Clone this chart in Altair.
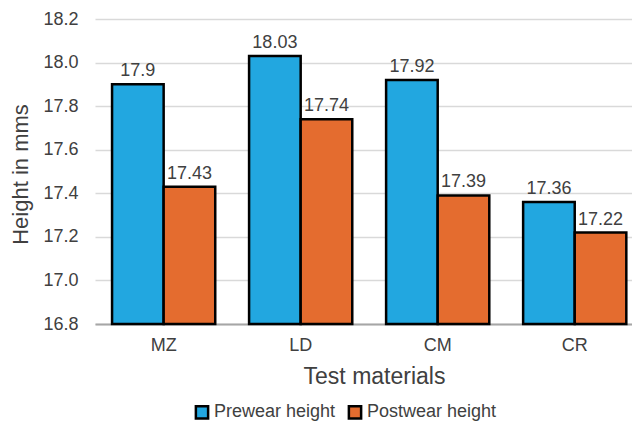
import altair as alt
import pandas as pd

materials = ["MZ", "LD", "CM", "CR"]
prewear = [17.9, 18.03, 17.92, 17.36]
postwear = [17.43, 17.74, 17.39, 17.22]
series_names = ["Prewear height", "Postwear height"]
colors = ["#22A7E0", "#E46C2F"]

rows = []
for m, a, b in zip(materials, prewear, postwear):
    rows.append({"material": m, "series": series_names[0], "value": a, "label": str(a)})
    rows.append({"material": m, "series": series_names[1], "value": b, "label": str(b)})
df = pd.DataFrame(rows)

FONT = "Liberation Sans"
TXT = "#404040"

x = alt.X("material:N", sort=materials,
          scale=alt.Scale(paddingInner=0.247, paddingOuter=0.083, align=0.75),
          axis=alt.Axis(title="Test materials", labelAngle=0, labelFontSize=18,
                        labelColor=TXT, labelFont=FONT, labelPadding=12,
                        titleFontSize=23, titleColor=TXT, titleFont=FONT,
                        titleFontWeight="normal", titleBaseline="alphabetic",
                        titleX=279, titleY=59,
                        ticks=False, domainColor="#a6a6a6", domainWidth=2))
xo = alt.XOffset("series:N", sort=series_names, scale=alt.Scale(paddingInner=0, paddingOuter=0))
y = alt.Y("value:Q", scale=alt.Scale(domain=[16.8, 18.2], zero=False, nice=False),
          axis=alt.Axis(title="Height in mms", values=[16.8, 17.0, 17.2, 17.4, 17.6, 17.8, 18.0, 18.2],
                        format=".1f", labelFontSize=18, labelColor=TXT, labelFont=FONT,
                        labelPadding=17, ticks=False, domain=False,
                        gridColor="#d9d9d9", gridWidth=1.5,
                        titleFontSize=22, titleColor=TXT, titleFont=FONT,
                        titleFontWeight="normal", titleBaseline="alphabetic",
                        titleX=-68, titleY=155))

base = alt.Chart(df)
bars = base.mark_bar(stroke="black", strokeWidth=2.5).encode(
    x=x, xOffset=xo, y=y, y2=alt.datum(16.8),
    color=alt.Color("series:N", sort=series_names,
                    scale=alt.Scale(domain=series_names, range=colors),
                    legend=alt.Legend(title=None, orient="none", direction="horizontal",
                                      legendX=98, legendY=384, symbolType="square",
                                      symbolSize=150, symbolStrokeColor="black",
                                      symbolStrokeWidth=2.5, labelFontSize=18,
                                      labelFont=FONT, labelColor=TXT, columnPadding=7,
                                      labelOffset=3)),
)
labels = base.mark_text(dy=-8, fontSize=18, font=FONT, color=TXT, baseline="alphabetic").encode(
    x=alt.X("material:N", sort=materials), xOffset=alt.XOffset("series:N", sort=series_names),
    y="value:Q", text="label:N",
)

chart = (bars + labels).properties(
    width=537, height=305,
    autosize=alt.AutoSizeParams(type="none"),
    padding={"left": 87, "top": 11, "right": 0, "bottom": 99},
).configure_view(stroke=None)

chart.save("out.html", embed_options={"renderer": "svg", "actions": False})
